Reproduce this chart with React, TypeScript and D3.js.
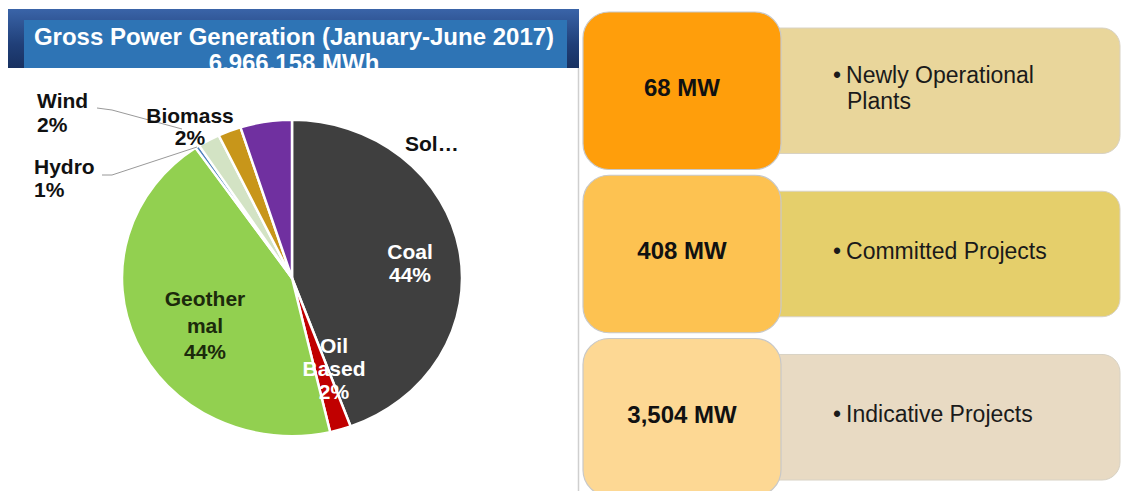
import React from 'react'
import * as d3 from 'd3'

// pie slices, clockwise from 12 o'clock
const sources = ['Coal', 'Oil Based', 'Geothermal', 'Hydro', 'Wind', 'Biomass', 'Solar']
const shares = [44.4, 2.0, 44.0, 0.4, 2.1, 2.2, 4.9]
const sliceColors = ['#3f3f3f', '#c00000', '#92d050', '#4f81bd', '#d3e3c4', '#c8961a', '#7030a0']

// capacity boxes on the right
const capacities = ['68 MW', '408 MW', '3,504 MW']
const capacityLabels = [['Newly Operational', 'Plants'], ['Committed Projects'], ['Indicative Projects']]
const leftBoxColors = ['#ff9e0b', '#fdc251', '#fdd894']
const rightBoxColors = ['#e9d69b', '#e5cf6b', '#e8dac3']

const titleLines = ['Gross Power Generation (January-June 2017)', '6,966,158 MWh']

const W = 1122
const H = 491

export default function App() {
  const cx = 292
  const cy = 278
  const r = 170
  const squash = 0.93

  const pie = d3.pie<number>().sort(null).value(d => d)
  const arcs = pie(shares)
  const arc = d3.arc<d3.PieArcDatum<number>>().innerRadius(0).outerRadius(r)

  // label layout (text only)
  const labels = [
    { lines: ['Coal', '44%'], x: 410, y: 253, fill: '#fff', anchor: 'middle', lh: 23 },
    { lines: ['Oil', 'Based', '2%'], x: 334, y: 347, fill: '#fff', anchor: 'middle', lh: 23 },
    { lines: ['Geother', 'mal', '44%'], x: 205, y: 300, fill: '#1c2a0c', anchor: 'middle', lh: 26.5 },
    { lines: ['Hydro', '1%'], x: 34, y: 168, fill: '#111', anchor: 'start', lh: 23 },
    { lines: ['Wind', '2%'], x: 37, y: 102, fill: '#111', anchor: 'start', lh: 24 },
    { lines: ['Biomass', '2%'], x: 190, y: 117, fill: '#111', anchor: 'middle', lh: 22 },
    { lines: ['Sol…'], x: 405, y: 145, fill: '#111', anchor: 'start', lh: 23 },
  ]

  const boxY = d3.scaleBand<number>().domain([0, 1, 2]).range([12, 496]).paddingInner(0.035)

  return (
    <svg width={W} height={H} style={{ position: 'absolute', left: 0, top: 0, fontFamily: '"Liberation Sans", Arial, sans-serif' }}>
      <defs>
        <linearGradient id="navy" x1="0" y1="0" x2="0" y2="1">
          <stop offset="0" stopColor="#3a64a8" />
          <stop offset="0.5" stopColor="#203f78" />
          <stop offset="1" stopColor="#142a55" />
        </linearGradient>
        <clipPath id="titleClip">
          <rect x={0} y={0} width={600} height={68} />
        </clipPath>
      </defs>
      <rect width={W} height={H} fill="#fff" />

      {/* title banner */}
      <rect x={8} y={9} width={571} height={71} fill="url(#navy)" />
      <rect x={24} y={20} width={543} height={60} fill="#2e74b5" />
      <g clipPath="url(#titleClip)">
        {titleLines.map((t, i) => (
          <text key={i} x={294} y={39 + i * 26} fill="#fff" fontSize={24} fontWeight="bold" textAnchor="middle" dominantBaseline="middle">
            {t}
          </text>
        ))}
      </g>
      <rect x={8} y={68} width={571} height={13} fill="#fff" />
      <line x1={578.5} y1={68} x2={578.5} y2={H} stroke="#cfcfcf" strokeWidth={1.5} />

      {/* pie */}
      <g transform={`translate(${cx},${cy}) scale(1,${squash})`}>
        {arcs.map((a, i) => (
          <path key={sources[i]} d={arc(a) || ''} fill={sliceColors[i]} stroke="#fff" strokeWidth={2.5} />
        ))}
      </g>

      {/* leader lines */}
      <polyline points="97,108 112,110 182,129" fill="none" stroke="#7f7f7f" strokeWidth={0.8} />
      <polyline points="102,175 112,175 197,147" fill="none" stroke="#7f7f7f" strokeWidth={0.8} />

      {labels.map((l, i) => (
        <text key={i} x={l.x} y={l.y} fill={l.fill} fontSize={21} fontWeight="bold" textAnchor={l.anchor} dominantBaseline="middle">
          {l.lines.map((s, j) => (
            <tspan key={j} x={l.x} dy={j === 0 ? 0 : l.lh}>{s}</tspan>
          ))}
        </text>
      ))}

      {/* capacity boxes */}
      {capacities.map((c, i) => {
        const y0 = boxY(i) as number
        const h = boxY.bandwidth()
        const cyB = y0 + h / 2 - 1
        const n = capacityLabels[i].length
        return (
          <g key={c}>
            <rect x={760} y={y0 + 16} width={W + 20 - 760 - 22} height={h - 32} rx={18} fill={rightBoxColors[i]} stroke="#d8d2c4" strokeWidth={1} />
            <rect x={583} y={y0} width={198} height={h} rx={26} fill={leftBoxColors[i]} stroke="#c8c8c8" strokeWidth={1.2} />
            <text x={682} y={cyB} fontSize={24} fontWeight="bold" fill="#111" textAnchor="middle" dominantBaseline="middle">{c}</text>
            <text x={833} y={cyB - (n - 1) * 13} fontSize={23} fill="#1a1a1a" dominantBaseline="middle">
              <tspan>•</tspan>
              {capacityLabels[i].map((s, j) => (
                <tspan key={j} x={j === 0 ? undefined : 847} dx={j === 0 ? 5 : 0} dy={j === 0 ? 0 : 26}>{s}</tspan>
              ))}
            </text>
          </g>
        )
      })}
    </svg>
  )
}
